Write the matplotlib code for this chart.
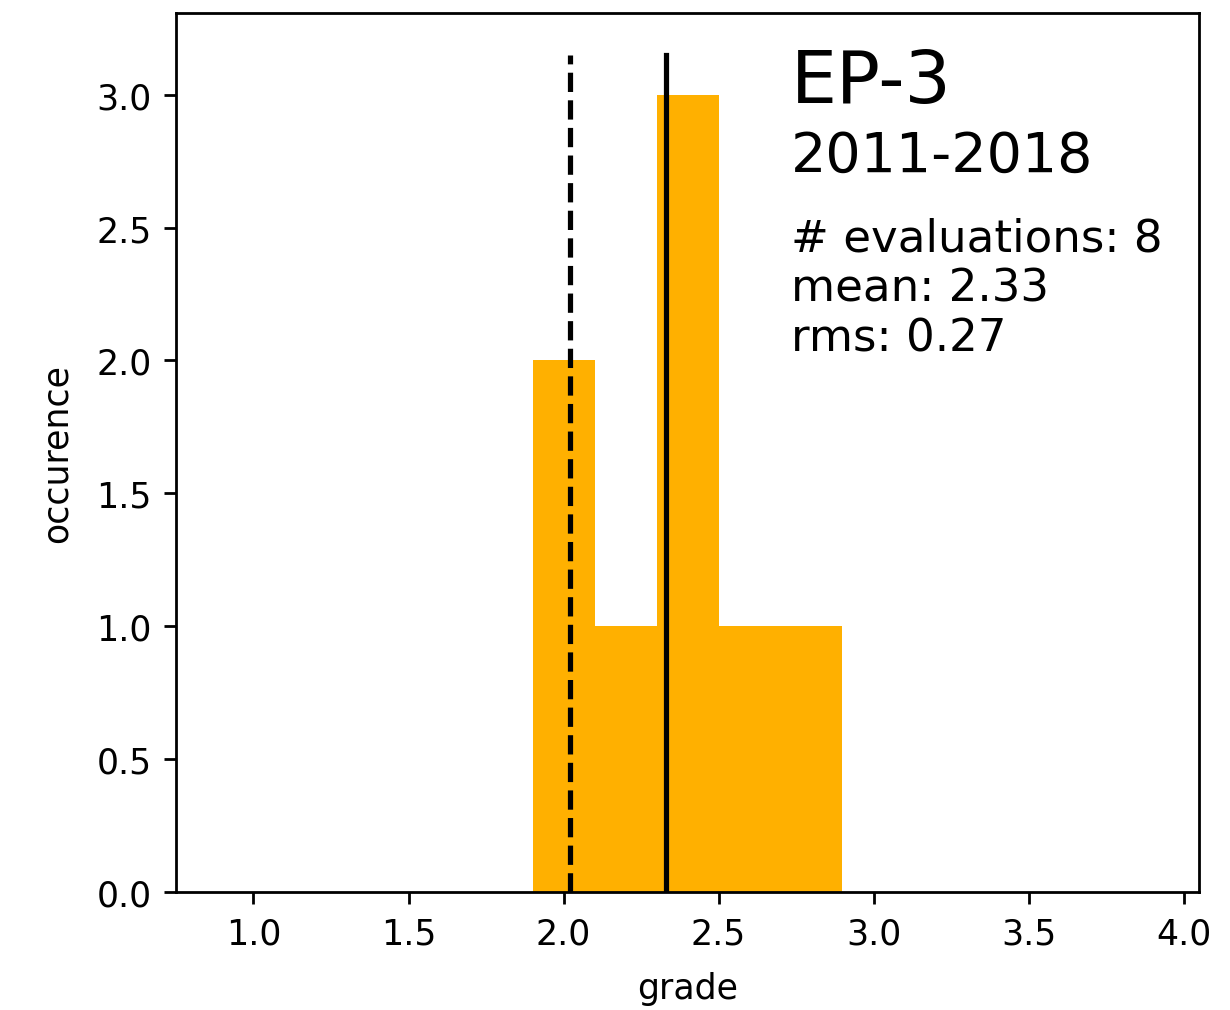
import matplotlib
matplotlib.use('Agg')
import matplotlib.pyplot as plt

# histogram of grades
bin_edges = [1.9, 2.1, 2.3, 2.5, 2.7, 2.9]
counts = [2, 1, 3, 1, 1]
dashed_value = 2.02
mean_value = 2.33
title = 'EP-3'
period = '2011-2018'
stats = '# evaluations: 8\nmean: 2.33\nrms: 0.27'

centers = [(a + b) / 2 for a, b in zip(bin_edges[:-1], bin_edges[1:])]

fig = plt.figure(figsize=(1230 / 250, 1011 / 250), dpi=250)
ax = fig.add_axes([176 / 1230, 118 / 1011, 1023 / 1230, 879 / 1011])

ax.hist(centers, bins=bin_edges, weights=counts, color='#ffb000')
top = 1.05 * max(counts)
ax.plot([dashed_value, dashed_value], [0, top], color='k', ls='--', lw=1.5)
ax.plot([mean_value, mean_value], [0, top], color='k', lw=1.5)

ax.set_xlim(0.75, 4.05)
ax.set_xlabel('grade', labelpad=6)
ax.set_ylabel('occurence', labelpad=6.5)

ax.text(0.601, 0.899, title, transform=ax.transAxes, fontsize=21, va='baseline')
ax.text(0.601, 0.820, period, transform=ax.transAxes, fontsize=16, va='baseline')
ax.text(0.601, 0.768, stats, transform=ax.transAxes, fontsize=13, va='top')

fig.savefig('out.png', dpi=250)
